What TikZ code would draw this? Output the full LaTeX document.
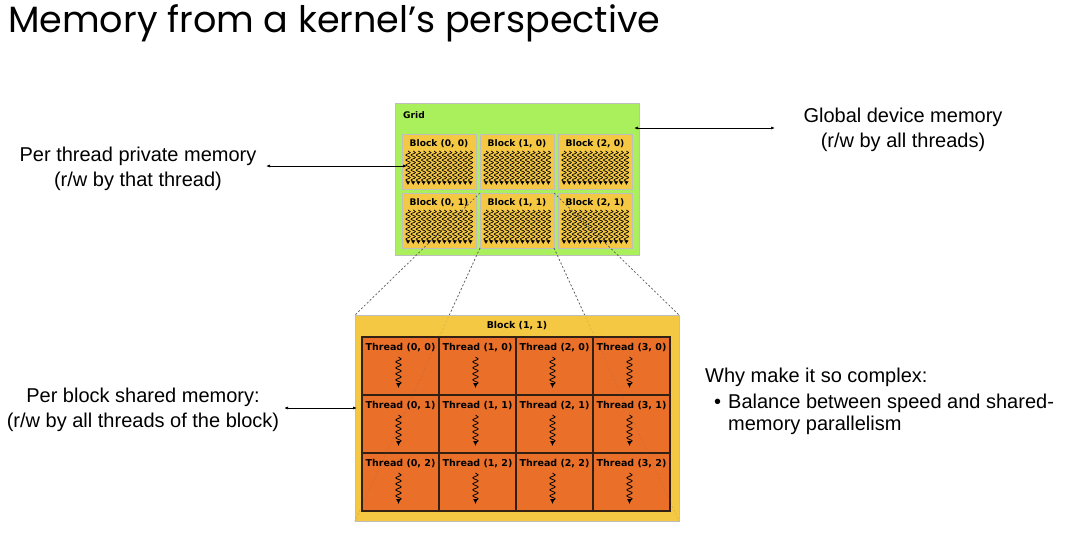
\documentclass[tikz,border=0pt]{standalone}
\usepackage{graphicx}
\usepackage{fontspec}
\setmainfont{Liberation Sans}
\newfontfamily\titlefont{Poppins}
\newfontfamily\vfont{DejaVu Sans}
\usetikzlibrary{arrows.meta,decorations.pathmorphing}
\definecolor{gridgreen}{RGB}{170,240,92}
\definecolor{blockyellow}{RGB}{245,200,68}
\definecolor{threadorange}{RGB}{234,112,42}
\definecolor{boxgray}{RGB}{190,190,190}
\definecolor{celledge}{RGB}{50,32,20}
\definecolor{dashgray}{RGB}{90,90,90}
\tikzset{
  gbox/.style={draw=boxgray, line width=1pt, fill=blockyellow, minimum width=74pt, minimum height=55pt, anchor=north west, inner sep=0pt, outer sep=0pt},
  tcell/.style={draw=celledge, line width=1.1pt, fill=threadorange, minimum width=77pt, minimum height=58pt, anchor=north west, inner sep=0pt, outer sep=0pt},
  glbl/.style={font=\vfont\bfseries\fontsize{9.1}{10}\selectfont, inner sep=0pt},
  tlbl/.style={font=\vfont\bfseries\fontsize{9.5}{10}\selectfont, inner sep=0pt},
  warp/.style={decorate, decoration={snake, amplitude=2.2pt, segment length=5pt, post length=2.5pt}, line width=0.7pt, -{Latex[length=3.6pt,width=4.6pt]}},
  twarp/.style={decorate, decoration={snake, amplitude=2.6pt, segment length=6pt, post length=3pt}, line width=0.8pt, -{Latex[length=5pt,width=5pt]}},
  conn/.style={{Latex[length=4pt,width=3pt]}-{Latex[length=4pt,width=3pt]}, line width=0.7pt},
  persp/.style={dashgray, line width=0.7pt, dash pattern=on 2pt off 2pt},
  body/.style={font=\fontsize{20}{25}\selectfont, align=center, inner sep=0pt},
  bodyl/.style={font=\fontsize{20}{25}\selectfont, anchor=base west, inner sep=0pt}
}
\begin{document}
\begin{tikzpicture}[x=1pt,y=-1pt]
\useasboundingbox (0,0) rectangle (1080,536);
\fill[white] (0,0) rectangle (1080,536);

% title
\node[anchor=base west, inner sep=0pt] (title) at (8,32) {\resizebox{652pt}{!}{\titlefont Memory from a kernel’s perspective}};

% grid
\node[draw=boxgray, line width=1pt, fill=gridgreen, minimum width=244pt, minimum height=152pt, anchor=north west, inner sep=0pt] (grid) at (395,103) {};
\node[glbl, anchor=west] (gridlbl) at (403,115) {Grid};
\foreach \i in {0,1,2} {
  \foreach \j in {0,1} {
    \pgfmathsetmacro\bx{402+78*\i}
    \pgfmathsetmacro\by{134+59*\j}
    \node[gbox] (gb\i\j) at (\bx,\by) {};
    \node[glbl] (gl\i\j) at (\bx+37,\by+10) {Block (\i, \j)};
    \foreach \k in {0,...,12} {
      \draw[warp] (\bx+6+\k*5.2,\by+17) -- ++(0,34);
    }
  }
}

% perspective lines
\coordinate (bbnw) at (355,315);
\coordinate (bbne) at (679,315);
\coordinate (bbsw) at (355,521);
\coordinate (bbse) at (679,521);
\draw[persp] (gb11.north west) -- (bbnw);
\draw[persp] (gb11.north east) -- (bbne);
\draw[persp] (gb11.south west) -- (bbsw);
\draw[persp] (gb11.south east) -- (bbse);

% enlarged block
\node[draw=boxgray, line width=1pt, fill=blockyellow, minimum width=324pt, minimum height=206pt, anchor=north west, inner sep=0pt] (bb) at (bbnw) {};
\node[glbl, font=\vfont\bfseries\fontsize{9.4}{10}\selectfont] (bblbl) at (517,326) {Block (1, 1)};
\foreach \i in {0,1,2,3} {
  \foreach \j in {0,1,2} {
    \pgfmathsetmacro\cx{362+77*\i}
    \pgfmathsetmacro\cy{337+58*\j}
    \node[tcell] (tc\i\j) at (\cx,\cy) {};
    \node[tlbl] (tl\i\j) at (\cx+38.5,\cy+11) {Thread (\i, \j)};
    \draw[twarp] (\cx+36.5,\cy+20) -- ++(0,31);
  }
}
\draw[persp, draw opacity=0.18] (gb11.south west) -- (bbsw);
\draw[persp, draw opacity=0.18] (gb11.south east) -- (bbse);

% annotations
\node[body] (ptext) at (138,169) {Per thread private memory\\(r/w by that thread)};
\coordinate (pa1) at (266,166);
\coordinate (pa2) at (407,166);
\draw[conn] (pa1) -- (pa2);

\node[body] (gtext) at (903,130) {Global device memory\\(r/w by all threads)};
\coordinate (ga1) at (634,128);
\coordinate (ga2) at (775,128);
\draw[conn] (ga1) -- (ga2);

\node[body] (stext) at (143,410) {Per block shared memory:\\(r/w by all threads of the block)};
\coordinate (sa1) at (284,408);
\coordinate (sa2) at (357,408);
\draw[conn] (sa1) -- (sa2);

\node[bodyl] (why) at (705,382) {Why make it so complex:};
\node[bodyl] (bul) at (714,408) {\textbullet};
\node[bodyl] (bal1) at (728,408) {Balance between speed and shared-};
\node[bodyl] (bal2) at (728,430) {memory parallelism};
\end{tikzpicture}
\end{document}
